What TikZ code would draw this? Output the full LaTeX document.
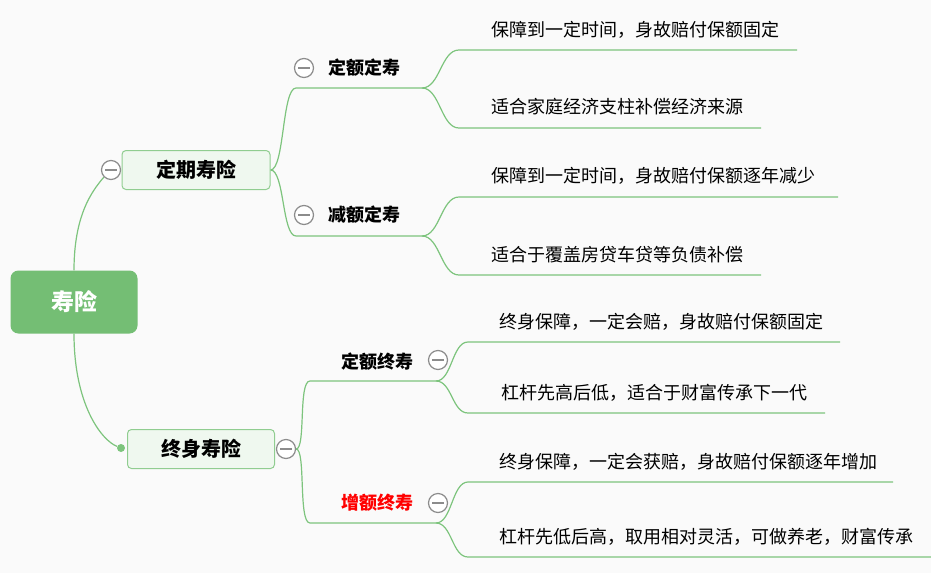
\documentclass[tikz,border=0pt]{standalone}
\usepackage{fontspec}
\setmainfont{Noto Sans CJK SC}
\usepackage{tikz}
\usetikzlibrary{positioning,backgrounds}
\definecolor{br}{HTML}{7DC47D}
\definecolor{rootg}{HTML}{74BE74}
\definecolor{tg}{HTML}{8C8C8C}
\definecolor{bgc}{HTML}{FAFAFA}

\begin{document}
\begin{tikzpicture}[x=1pt,y=-1pt,
  ln/.style={draw=br,line width=1.2pt},
  rootbox/.style={rectangle,fill=rootg,rounded corners=8pt,minimum width=127pt,minimum height=63pt,text=white,font=\fontsize{23}{27}\selectfont\bfseries},
  topic/.style={rectangle,draw=br!85,fill=br!12!white,line width=1pt,rounded corners=4pt,minimum height=39pt,inner sep=0pt,font=\fontsize{20}{24}\selectfont\bfseries},
  subt/.style={inner sep=0pt,font=\fontsize{18}{21}\selectfont\bfseries},
  leaf/.style={anchor=west,inner sep=0pt,font=\fontsize{18}{22}\selectfont},
  dot/.style={circle,fill=br,minimum size=8pt,inner sep=0pt},
  tog/.style={circle,draw=tg,fill=white,line width=1.2pt,minimum size=19pt,inner sep=0pt,
    path picture={\draw[tg,line width=1.2pt] ([xshift=-6pt]path picture bounding box.center) -- ([xshift=6pt]path picture bounding box.center);}}]

\useasboundingbox (0,0) rectangle (931,573);

% ---- root
\node[rootbox] (S) at (74,302) {寿险};

% ---- branch 1: 定期寿险
\node[topic,minimum width=148pt] (T1) at (196,170) {定期寿险};
\node[tog] (t1) at (111,170) {};
\node[subt] (m1) at (364,68) {定额定寿};
\node[tog] (t2) at (304,68) {};
\node[subt] (m2) at (364,215) {减额定寿};
\node[tog] (t3) at (304,215) {};
\coordinate (a1) at (296,88);  \coordinate (u1) at (422,88);
\coordinate (a2) at (296,236); \coordinate (u2) at (422,236);
\node[leaf] (l1) at (491,30)  {保障到一定时间，身故赔付保额固定};
\node[leaf] (l2) at (491,107) {适合家庭经济支柱补偿经济来源};
\node[leaf] (l3) at (491,176) {保障到一定时间，身故赔付保额逐年减少};
\node[leaf] (l4) at (491,255) {适合于覆盖房贷车贷等负债补偿};
\coordinate (s1) at (459,50);  \coordinate (e1) at (797,50);
\coordinate (s2) at (459,128); \coordinate (e2) at (761,128);
\coordinate (s3) at (459,197); \coordinate (e3) at (838,197);
\coordinate (s4) at (459,275); \coordinate (e4) at (761,275);

% ---- branch 2: 终身寿险
\node[topic,minimum width=147pt] (T2) at (201,449) {终身寿险};
\node[dot] (d) at (121,448) {};
\node[tog] (t4) at (286,449) {};
\node[subt] (m3) at (377,362) {定额终寿};
\node[tog] (t5) at (438,360) {};
\node[subt,text=red] (m4) at (377,503) {增额终寿};
\node[tog] (t6) at (438,503) {};
\coordinate (b1) at (310,381); \coordinate (v1) at (436,381);
\coordinate (b2) at (310,523); \coordinate (v2) at (436,523);
\node[leaf] (l5) at (499,322) {终身保障，一定会赔，身故赔付保额固定};
\node[leaf] (l6) at (501,393) {杠杆先高后低，适合于财富传承下一代};
\node[leaf] (l7) at (499,462) {终身保障，一定会获赔，身故赔付保额逐年增加};
\node[leaf] (l8) at (499,537) {杠杆先低后高，取用相对灵活，可做养老，财富传承};
\coordinate (s5) at (468,342); \coordinate (e5) at (840,342);
\coordinate (s6) at (468,413); \coordinate (e6) at (825,413);
\coordinate (s7) at (468,482); \coordinate (e7) at (893,482);
\coordinate (s8) at (468,557); \coordinate (e8) at (931,557);

% ---- connectors
\begin{scope}[on background layer]
  \fill[bgc] (0,0) rectangle (931,573);
  \draw[ln] (S.north) .. controls +(0,-55) and +(-12,14) .. (t1.south west);
  \draw[ln] (S.south) .. controls +(0,70) and +(-20,-8) .. (d);
  \draw[ln] (T1.east) .. controls +(14,0) and +(-14,0) .. (a1) -- (u1);
  \draw[ln] (T1.east) .. controls +(14,0) and +(-14,0) .. (a2) -- (u2);
  \draw[ln] (u1) .. controls +(18,0) and +(-18,0) .. (s1) -- (e1);
  \draw[ln] (u1) .. controls +(18,0) and +(-18,0) .. (s2) -- (e2);
  \draw[ln] (u2) .. controls +(18,0) and +(-18,0) .. (s3) -- (e3);
  \draw[ln] (u2) .. controls +(18,0) and +(-18,0) .. (s4) -- (e4);
  \draw[ln] (t4.east) .. controls +(10,0) and +(-12,0) .. (b1) -- (v1);
  \draw[ln] (t4.east) .. controls +(10,0) and +(-12,0) .. (b2) -- (v2);
  \draw[ln] (v1) .. controls +(16,0) and +(-16,0) .. (s5) -- (e5);
  \draw[ln] (v1) .. controls +(16,0) and +(-16,0) .. (s6) -- (e6);
  \draw[ln] (v2) .. controls +(16,0) and +(-16,0) .. (s7) -- (e7);
  \draw[ln] (v2) .. controls +(16,0) and +(-16,0) .. (s8) -- (e8);
\end{scope}
\end{tikzpicture}
\end{document}
